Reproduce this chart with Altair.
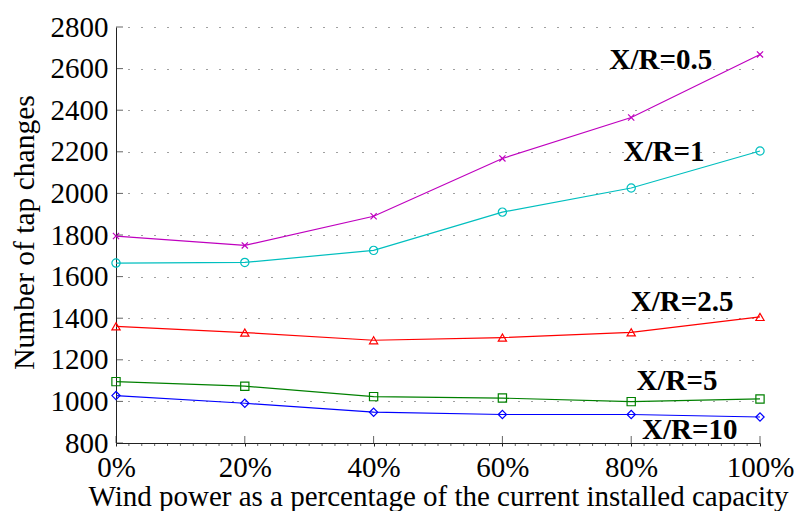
import altair as alt
import pandas as pd

# Wind penetration levels (% of current installed capacity)
wind_pct = [0, 20, 40, 60, 80, 100]

# Number of tap changes for each X/R ratio
taps_xr05 = [1795, 1750, 1890, 2168, 2365, 2668]
taps_xr1 = [1665, 1668, 1726, 1910, 2026, 2204]
taps_xr25 = [1361, 1331, 1294, 1307, 1332, 1406]
taps_xr5 = [1095, 1073, 1023, 1016, 999, 1012]
taps_xr10 = [1028, 991, 948, 937, 937, 925]

series_names = ["X/R=0.5", "X/R=1", "X/R=2.5", "X/R=5", "X/R=10"]
series_values = [taps_xr05, taps_xr1, taps_xr25, taps_xr5, taps_xr10]
series_colors = ["#BF00BF", "#00BFBF", "#FF0000", "#008000", "#0000FF"]
series_shapes = [
    "M-0.75,-0.75L0.75,0.75M-0.75,0.75L0.75,-0.75",
    "circle",
    "triangle-up",
    "square",
    "diamond",
]

# Label anchors for the series names (x in %, y in tap changes)
label_x = [84.6, 85.1, 87.9, 87.1, 89.1]
label_y = [2597, 2156, 1435, 1053, 818]

y_ticks = list(range(800, 2801, 200))
x_major = [0, 20, 40, 60, 80, 100]
x_minor = [v for v in range(0, 101, 2) if v % 20 != 0]

rows = []
for name, vals in zip(series_names, series_values):
    for x, v in zip(wind_pct, vals):
        rows.append({"pct": x, "taps": v, "series": name})
df = pd.DataFrame(rows)

labels_df = pd.DataFrame({"series": series_names, "lx": label_x, "ly": label_y})

FONT = "Liberation Serif"
W, H = 644, 416

x_scale = alt.Scale(domain=[0, 100], nice=False, zero=False)
y_scale = alt.Scale(domain=[800, 2800], nice=False, zero=False)
color_scale = alt.Scale(domain=series_names, range=series_colors)
shape_scale = alt.Scale(domain=series_names, range=series_shapes)

x_axis = alt.Axis(
    values=x_major,
    labelExpr="datum.value + '%'",
    tickSize=3,
    tickColor="#222",
    labelPadding=30,
    labelBaseline="alphabetic",
    labelFont=FONT,
    labelFontSize=29,
    labelColor="#000",
    labelOverlap=False,
    labelFlush=False,
    domainColor="#222",
    grid=False,
    title="Wind power as a percentage of the current installed capacity",
    titleFont=FONT,
    titleFontSize=29,
    titleFontWeight="normal",
    titleColor="#000",
    titleX=322,
    titleY=62,
    titleBaseline="alphabetic",
    titleAlign="center",
)

y_axis = alt.Axis(
    values=y_ticks,
    format="d",
    tickSize=0,
    labelPadding=8,
    labelFont=FONT,
    labelFontSize=29,
    labelColor="#000",
    labelOverlap=False,
    labelFlush=False,
    domainColor="#222",
    grid=True,
    gridDash=[1, 12],
    gridDashOffset=-12,
    gridColor="#000",
    gridOpacity=0.75,
    title="Number of tap changes",
    titleFont=FONT,
    titleFontSize=29.5,
    titleFontWeight="normal",
    titleColor="#000",
    titleAngle=-90,
    titleX=-92,
    titleY=205,
    titleAlign="center",
    titleBaseline="middle",
)

base = alt.Chart(df)

lines = base.mark_line(strokeWidth=1.2).encode(
    x=alt.X("pct:Q", scale=x_scale, axis=x_axis),
    y=alt.Y("taps:Q", scale=y_scale, axis=y_axis),
    color=alt.Color("series:N", scale=color_scale, legend=None),
    detail="series:N",
)

points = base.mark_point(filled=False, strokeWidth=1.2, size=68, opacity=1).encode(
    x=alt.X("pct:Q", scale=x_scale),
    y=alt.Y("taps:Q", scale=y_scale),
    color=alt.Color("series:N", scale=color_scale, legend=None),
    shape=alt.Shape("series:N", scale=shape_scale, legend=None),
)

# Inward major ticks on both axes
xt = alt.Chart(pd.DataFrame({"pct": x_major})).mark_tick(
    orient="vertical", size=7, thickness=1, color="#222"
).encode(x=alt.X("pct:Q", scale=x_scale), y=alt.value(H - 3.5))

yt = alt.Chart(pd.DataFrame({"taps": y_ticks})).mark_tick(
    orient="horizontal", size=7, thickness=1, color="#222"
).encode(y=alt.Y("taps:Q", scale=y_scale), x=alt.value(3.5))

# Small outward minor ticks along the bottom axis
xm = alt.Chart(pd.DataFrame({"pct": x_minor})).mark_tick(
    orient="vertical", size=3, thickness=1, color="#222", clip=False
).encode(x=alt.X("pct:Q", scale=x_scale), y=alt.value(H + 1.5))

names = alt.Chart(labels_df).mark_text(
    font=FONT, fontSize=29, fontWeight="bold", color="#000",
    align="center", baseline="alphabetic",
).encode(
    x=alt.X("lx:Q", scale=x_scale),
    y=alt.Y("ly:Q", scale=y_scale),
    text="series:N",
)

chart = (
    alt.layer(lines, points, xt, yt, xm, names)
    .properties(
        width=W,
        height=H,
        autosize=alt.AutoSizeParams(type="none"),
        padding={"left": 116, "top": 27, "right": 35, "bottom": 68},
        background="white",
    )
    .configure_view(stroke=None)
)

chart.save("out.html", embed_options={"renderer": "svg", "actions": False})
